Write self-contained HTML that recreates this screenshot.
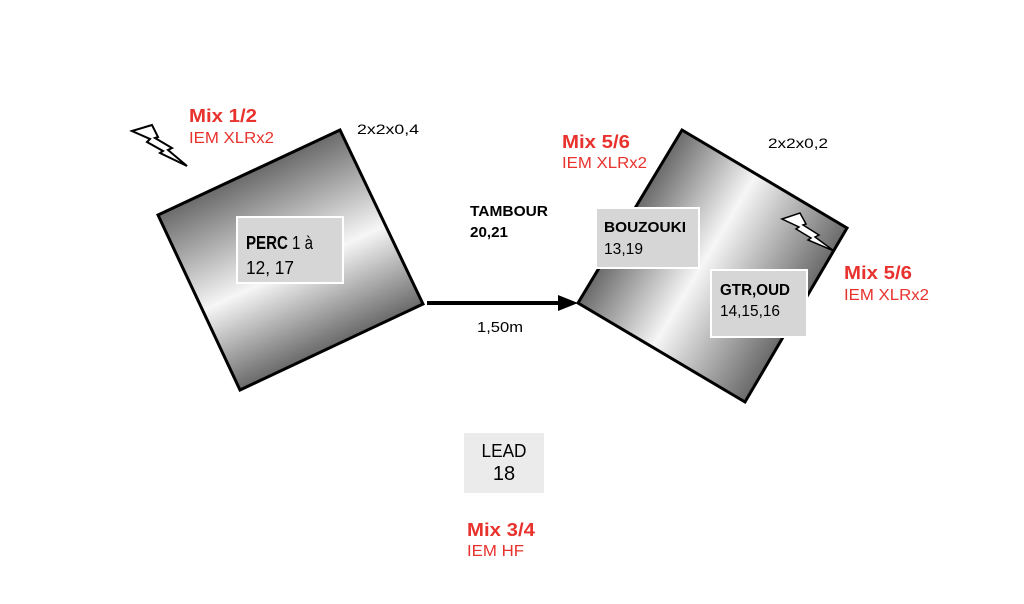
<!DOCTYPE html>
<html><head><meta charset="utf-8"><style>
body{margin:0;background:#fff;}
svg{display:block;}
text{font-family:"Liberation Sans",Arial,sans-serif;}
</style></head><body>
<svg width="1024" height="604" viewBox="0 0 1024 604" xmlns="http://www.w3.org/2000/svg">
<defs>
<linearGradient id="g1" gradientUnits="userSpaceOnUse" x1="249" y1="172" x2="331" y2="347">
<stop offset="0" stop-color="#6a6a6a"/><stop offset="0.55" stop-color="#f6f6f6"/><stop offset="1" stop-color="#6a6a6a"/>
</linearGradient>
<linearGradient id="g2" gradientUnits="userSpaceOnUse" x1="630" y1="216" x2="796" y2="315">
<stop offset="0" stop-color="#6a6a6a"/><stop offset="0.45" stop-color="#f6f6f6"/><stop offset="1" stop-color="#6a6a6a"/>
</linearGradient>
</defs>
<polygon points="158,215 340,130 423,304 240,390" fill="url(#g1)" stroke="#000" stroke-width="3"/>
<polygon points="682,130 847,228 745,402 578,303" fill="url(#g2)" stroke="#000" stroke-width="3"/>
<line x1="427" y1="303" x2="562" y2="303" stroke="#000" stroke-width="4"/>
<polygon points="558,295 578,303 558,311" fill="#000"/>
<polygon points="132,131 152,125 158,137 155,138 172,148 168,150 187,166 160,153 163,151 147,142 150,139" fill="#fff" stroke="#000" stroke-width="2"/>
<polygon points="782,219 800,213 806,224 803,225 819,235 815,237 834,251 808,240 811,238 796,229 799,227" fill="#fff" stroke="#000" stroke-width="1.5"/>
<rect x="237" y="217" width="106" height="66" fill="#d6d6d6" stroke="#fff" stroke-width="2"/>
<rect x="596" y="208" width="103" height="60" fill="#d6d6d6" stroke="#fff" stroke-width="2"/>
<rect x="711" y="270" width="96" height="67" fill="#d6d6d6" stroke="#fff" stroke-width="2"/>
<rect x="464" y="433" width="80" height="60" fill="#ebebeb"/>
<text x="246" y="249" font-size="18" textLength="67" lengthAdjust="spacingAndGlyphs"><tspan font-weight="bold">PERC</tspan> 1 à</text>
<text x="246" y="274" font-size="18" textLength="48" lengthAdjust="spacingAndGlyphs">12, 17</text>
<text x="604" y="232" font-size="15" font-weight="bold" textLength="82" lengthAdjust="spacingAndGlyphs">BOUZOUKI</text>
<text x="604" y="254" font-size="16" textLength="39" lengthAdjust="spacingAndGlyphs">13,19</text>
<text x="720" y="295" font-size="16" font-weight="bold" textLength="70" lengthAdjust="spacingAndGlyphs">GTR,OUD</text>
<text x="720" y="316" font-size="16" textLength="60" lengthAdjust="spacingAndGlyphs">14,15,16</text>
<text x="504" y="457" font-size="18" text-anchor="middle" textLength="45" lengthAdjust="spacingAndGlyphs">LEAD</text>
<text x="504" y="480" font-size="20" text-anchor="middle">18</text>
<text x="470" y="216" font-size="15" font-weight="bold" textLength="78" lengthAdjust="spacingAndGlyphs">TAMBOUR</text>
<text x="470" y="237" font-size="15" font-weight="bold" textLength="38" lengthAdjust="spacingAndGlyphs">20,21</text>
<text x="477" y="332" font-size="15" textLength="46" lengthAdjust="spacingAndGlyphs">1,50m</text>
<text x="357" y="134" font-size="14" textLength="62" lengthAdjust="spacingAndGlyphs">2x2x0,4</text>
<text x="768" y="148" font-size="14" textLength="60" lengthAdjust="spacingAndGlyphs">2x2x0,2</text>
<g fill="#e8322d">
<text x="189" y="122" font-size="18" font-weight="bold" textLength="68" lengthAdjust="spacingAndGlyphs">Mix 1/2</text>
<text x="189" y="143" font-size="16" textLength="85" lengthAdjust="spacingAndGlyphs">IEM XLRx2</text>
<text x="562" y="148" font-size="18" font-weight="bold" textLength="68" lengthAdjust="spacingAndGlyphs">Mix 5/6</text>
<text x="562" y="168" font-size="16" textLength="85" lengthAdjust="spacingAndGlyphs">IEM XLRx2</text>
<text x="844" y="279" font-size="18" font-weight="bold" textLength="68" lengthAdjust="spacingAndGlyphs">Mix 5/6</text>
<text x="844" y="300" font-size="16" textLength="85" lengthAdjust="spacingAndGlyphs">IEM XLRx2</text>
<text x="467" y="536" font-size="18" font-weight="bold" textLength="68" lengthAdjust="spacingAndGlyphs">Mix 3/4</text>
<text x="467" y="556" font-size="16" textLength="57" lengthAdjust="spacingAndGlyphs">IEM HF</text>
</g>
</svg>
</body></html>
